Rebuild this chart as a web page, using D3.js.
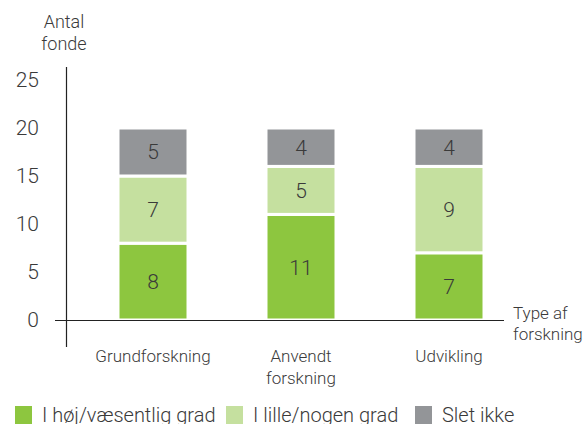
<!DOCTYPE html>
<html lang="da">
<head>
  <meta charset="UTF-8" />
  <title>Antal fonde</title>
  <script src="https://d3js.org/d3.v7.min.js"></script>
  <style>
    body { margin: 0; background: #fff; }
    text { font-family: Roboto, "Liberation Sans", sans-serif; font-weight: 300; fill: #3a3a3a; }
  </style>
</head>
<body>
  <svg id="chart" width="585" height="424"></svg>

  <script>
    const categories = ["Grundforskning", "Anvendt forskning", "Udvikling"];
    const categoryLines = [["Grundforskning"], ["Anvendt", "forskning"], ["Udvikling"]];
    const seriesNames = ["I høj/væsentlig grad", "I lille/nogen grad", "Slet ikke"];
    const hoj = [8, 11, 7];
    const lille = [7, 5, 9];
    const slet = [5, 4, 4];
    const yTicks = [0, 5, 10, 15, 20, 25];
    const colors = ["#8dc63f", "#c5e09f", "#939598"];

    const svg = d3.select("#chart");

    const y = d3.scaleLinear().domain([0, 20]).range([320, 128]);
    const x = d3.scalePoint().domain(categories).range([153, 449]);
    const barW = 70;

    const rows = categories.map((c, i) => ({ cat: c, s0: hoj[i], s1: lille[i], s2: slet[i] }));
    const stacked = d3.stack().keys(["s0", "s1", "s2"])(rows);

    // axes
    svg.append("line")
      .attr("x1", 66.5).attr("x2", 66.5)
      .attr("y1", 67).attr("y2", 347)
      .attr("stroke", "#222").attr("stroke-width", 1.2);

    svg.selectAll(".ytick")
      .data(yTicks)
      .join("text")
      .attr("class", "ytick")
      .attr("x", 39)
      .attr("y", d => y(d))
      .attr("dy", "0.35em")
      .attr("text-anchor", "end")
      .attr("font-size", 21)
      .text(d => d);

    svg.append("text")
      .attr("x", 64).attr("y", 28)
      .attr("text-anchor", "middle")
      .attr("font-size", 18)
      .selectAll("tspan")
      .data(["Antal", "fonde"])
      .join("tspan")
      .attr("x", 64)
      .attr("dy", (d, i) => i ? 22 : 0)
      .text(d => d);

    // bars
    const layer = svg.selectAll(".layer")
      .data(stacked)
      .join("g")
      .attr("class", "layer")
      .attr("fill", (d, i) => colors[i]);

    layer.selectAll("rect")
      .data(d => d)
      .join("rect")
      .attr("x", d => x(d.data.cat) - barW / 2)
      .attr("y", d => y(d[1]))
      .attr("width", barW)
      .attr("height", d => y(d[0]) - y(d[1]))
      .attr("stroke", "#fff")
      .attr("stroke-width", 3);

    layer.selectAll("text")
      .data(d => d)
      .join("text")
      .attr("x", d => x(d.data.cat))
      .attr("y", d => (y(d[0]) + y(d[1])) / 2)
      .attr("dy", "0.35em")
      .attr("text-anchor", "middle")
      .attr("font-size", 21)
      .text(d => d[1] - d[0]);

    svg.append("line")
      .attr("x1", 55).attr("x2", 504)
      .attr("y1", 320.5).attr("y2", 320.5)
      .attr("stroke", "#222").attr("stroke-width", 1.2);

    svg.append("text")
      .attr("x", 513).attr("y", 319)
      .attr("font-size", 17)
      .selectAll("tspan")
      .data(["Type af", "forskning"])
      .join("tspan")
      .attr("x", 513)
      .attr("dy", (d, i) => i ? 21 : 0)
      .text(d => d);

    // category labels
    svg.selectAll(".cat")
      .data(categories)
      .join("text")
      .attr("class", "cat")
      .attr("text-anchor", "middle")
      .attr("font-size", 17)
      .attr("y", 362)
      .each(function (d, i) {
        d3.select(this).selectAll("tspan")
          .data(categoryLines[i])
          .join("tspan")
          .attr("x", x(d))
          .attr("dy", (t, j) => j ? 22 : 0)
          .text(t => t);
      });

    // legend
    const legendX = [15, 226, 415];
    const lg = svg.selectAll(".lg")
      .data(seriesNames)
      .join("g")
      .attr("class", "lg")
      .attr("transform", (d, i) => `translate(${legendX[i]},406)`);
    lg.append("rect").attr("width", 17).attr("height", 18).attr("fill", (d, i) => colors[i]);
    lg.append("text").attr("x", 27).attr("y", 16).attr("font-size", 20).text(d => d);
  </script>
</body>
</html>
